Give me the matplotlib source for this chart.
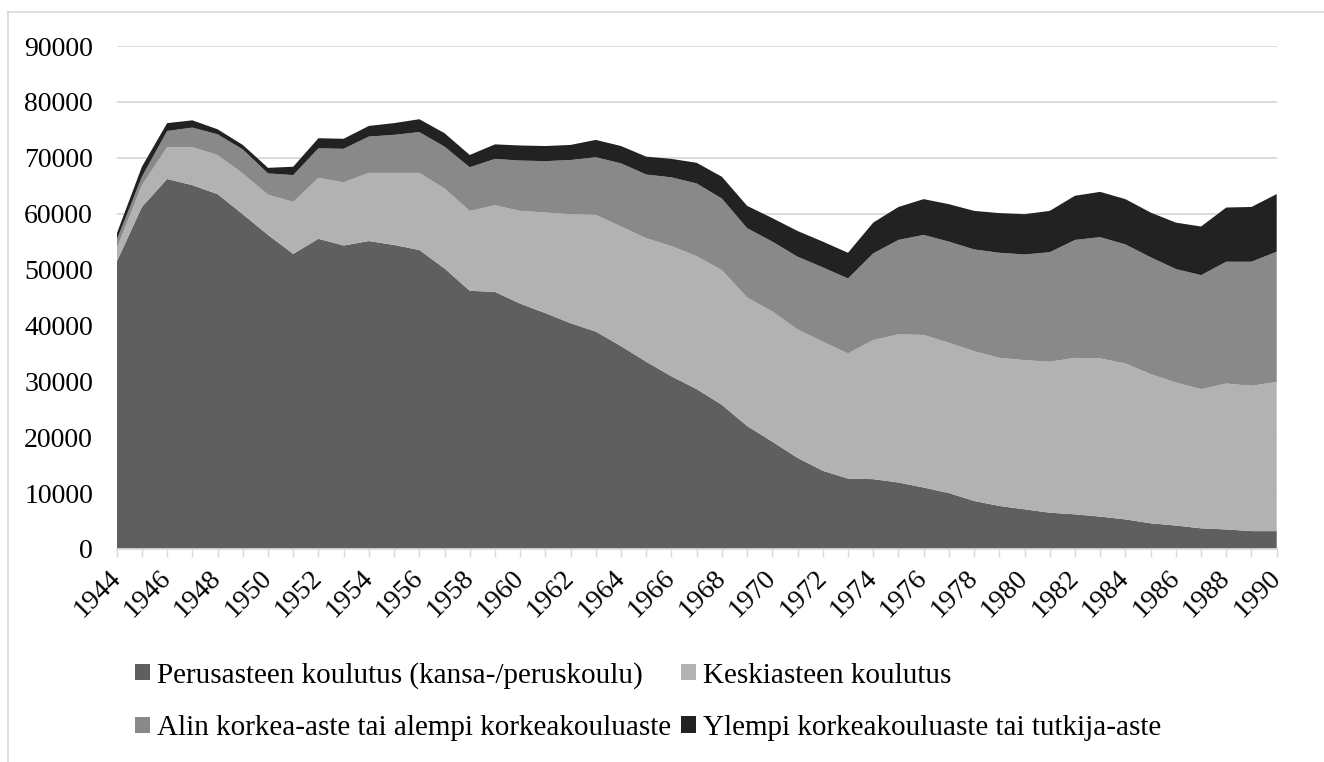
import matplotlib
matplotlib.use("Agg")
import matplotlib.pyplot as plt
from matplotlib.patches import Patch
from matplotlib.lines import Line2D
import numpy as np

years = list(range(1944, 1991))

perus = [51400, 61200, 66200, 65100, 63500, 59900, 56200, 52800, 55500, 54300,
         55100, 54400, 53500, 50200, 46200, 46000, 43900, 42200, 40400, 38900,
         36300, 33500, 30900, 28600, 25800, 22000, 19200, 16300, 14000, 12600,
         12500, 11900, 11000, 10000, 8600, 7700, 7100, 6500, 6200, 5800,
         5300, 4600, 4200, 3700, 3500, 3200, 3200]
keski = [2400, 3900, 5700, 6800, 7000, 7300, 7200, 9300, 10900, 11300,
         12200, 12900, 13800, 14300, 14300, 15500, 16600, 18000, 19500, 20900,
         21400, 22100, 23300, 23800, 24100, 23000, 23300, 23000, 23100, 22400,
         24900, 26500, 27300, 26900, 26800, 26500, 26700, 27000, 28000, 28300,
         27900, 26700, 25600, 24900, 26100, 26000, 26700]
alin = [1500, 1500, 2900, 3500, 3700, 4300, 3800, 4800, 5300, 6000,
        6500, 6800, 7300, 7500, 7800, 8300, 9000, 9200, 9700, 10300,
        11300, 11400, 12300, 13000, 12800, 12400, 12500, 13000, 13300, 13400,
        15500, 16900, 17900, 18100, 18200, 18800, 18900, 19600, 21100, 21700,
        21300, 20900, 20300, 20400, 21800, 22200, 23300]
ylempi = [1100, 1800, 1400, 1300, 900, 800, 1000, 1500, 1800, 1800,
          1900, 2100, 2300, 2400, 2200, 2600, 2700, 2700, 2700, 3100,
          3100, 3200, 3300, 3700, 3900, 4000, 4200, 4600, 4600, 4600,
          5500, 5900, 6400, 6700, 6900, 7100, 7200, 7400, 7900, 8100,
          8100, 8000, 8300, 8700, 9700, 9800, 10300]

labels = ["Perusasteen koulutus (kansa-/peruskoulu)",
          "Keskiasteen koulutus",
          "Alin korkea-aste tai alempi korkeakouluaste",
          "Ylempi korkeakouluaste tai tutkija-aste"]
colors = ["#5f5f5f", "#b2b2b2", "#898989", "#222222"]
yticks = [0, 10000, 20000, 30000, 40000, 50000, 60000, 70000, 80000, 90000]

plt.rcParams['font.family'] = ['Liberation Serif', 'DejaVu Serif']

W, H = 1324, 762
fig = plt.figure(figsize=(W / 100, H / 100), dpi=100)
ax = fig.add_axes([116.7 / W, 1 - 549 / H, 1160 / W, 503 / H])

ax.stackplot(years, perus, keski, alin, ylempi, colors=colors, linewidth=0, zorder=2)

ax.set_xlim(1944, 1990)
ax.set_ylim(0, 90000)
ax.set_yticks(yticks)
ax.set_yticklabels([str(v) for v in yticks])
ax.yaxis.grid(True, color="#d9d9d9", linewidth=1.3, zorder=0)
ax.set_axisbelow(True)
ax.tick_params(axis='y', length=0, pad=17, labelsize=20)

ax.set_xticks(years)
ax.set_xticklabels([str(y) if y % 2 == 0 else "" for y in years])
ax.tick_params(axis='x', length=6, width=1, color="#d9d9d9", direction='out',
               pad=12, labelsize=20)
for lab in ax.get_xticklabels():
    lab.set_rotation(45)
    lab.set_ha('right')
    lab.set_va('center')
    lab.set_rotation_mode('anchor')

for s in ['top', 'right', 'left']:
    ax.spines[s].set_visible(False)
ax.spines['bottom'].set_color("#d9d9d9")
ax.spines['bottom'].set_linewidth(1.3)

# figure border (partially visible)
fig.add_artist(Line2D([8 / W, 8 / W], [0, 1 - 12 / H], transform=fig.transFigure,
                      color="#d9d9d9", linewidth=1.2))
fig.add_artist(Line2D([8 / W, 1], [1 - 12 / H, 1 - 12 / H], transform=fig.transFigure,
                      color="#d9d9d9", linewidth=1.2))

handles = [Patch(facecolor=c, edgecolor='none') for c in colors]
order = [0, 2, 1, 3]
fig.legend([handles[i] for i in order], [labels[i] for i in order],
           ncol=2, loc='upper left', bbox_to_anchor=(135 / W, 1 - 662 / H),
           frameon=False, fontsize=21, handlelength=0.51, handleheight=0.48,
           handletextpad=0.24, columnspacing=0.34, labelspacing=0.9,
           borderpad=0, borderaxespad=0)

fig.savefig("out.png", dpi=100)
